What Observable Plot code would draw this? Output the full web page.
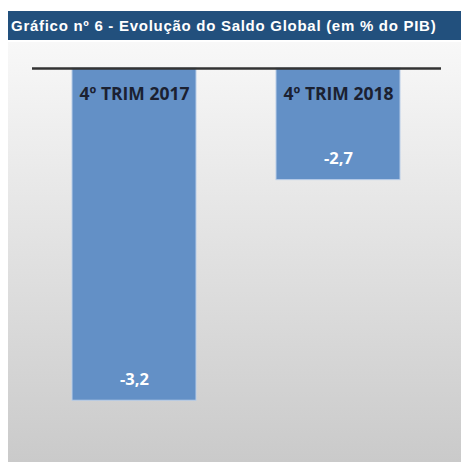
<!DOCTYPE html>
<html><head><meta charset="utf-8">
<script src="https://cdn.jsdelivr.net/npm/d3@7"></script>
<script src="https://cdn.jsdelivr.net/npm/@observablehq/plot@0.6"></script>
<style>
html,body{margin:0;padding:0;background:#fff;width:461px;height:462px;overflow:hidden;}
#title{position:absolute;left:8px;top:11px;width:453px;height:29px;background:#22507d;color:#fff;font:bold 15px "Liberation Sans",Arial,sans-serif;letter-spacing:0.72px;line-height:29px;padding-left:3px;box-sizing:border-box;white-space:nowrap;}
#chart{position:absolute;left:8px;top:42px;width:453px;height:420px;background:linear-gradient(to bottom,#f8f8f8 0%,#e8e8e8 35%,#d8d8d8 70%,#cacaca 100%);}
</style></head>
<body>
<div id="title">Gráfico nº 6 - Evolução do Saldo Global (em % do PIB)</div>
<div id="chart"></div>
<script>
const categories = ["4º TRIM 2017", "4º TRIM 2018"];
const values = [-3.2, -2.7];
const valueLabels = ["-3,2", "-2,7"];
const axisBase = -2.447;      // value where the drawn axis line sits
const yDomain = [-3.34, axisBase];

const data = categories.map((c, i) => ({category: c, value: values[i], label: valueLabels[i]}));

const chart = Plot.plot({
  width: 453,
  height: 420,
  marginTop: 26,
  marginBottom: 0,
  marginLeft: 24,
  marginRight: 20,
  style: {background: "transparent", overflow: "visible"},
  x: {domain: categories, paddingInner: 0.39, paddingOuter: 0.195, axis: null},
  y: {domain: yDomain, axis: null},
  marks: [
    Plot.barY(data, {x: "category", y1: d => axisBase, y2: "value", fill: "#6390c6", stroke: "#b9cde8", strokeWidth: 1}),
    Plot.ruleY([axisBase], {stroke: "#333333", strokeWidth: 2.5}),
    Plot.text(data, {x: "category", y: d => axisBase, text: "category", dy: 26, fontSize: 17.5, fontWeight: 700, fill: "#1b2131", fontFamily: "'Open Sans', sans-serif"}),
    Plot.text(data, {x: "category", y: "value", text: "label", dy: -21, fontSize: 16.5, fontWeight: 700, fill: "#ffffff", fontFamily: "'Open Sans', sans-serif"})
  ]
});
document.getElementById("chart").appendChild(chart);
</script>
</body></html>
